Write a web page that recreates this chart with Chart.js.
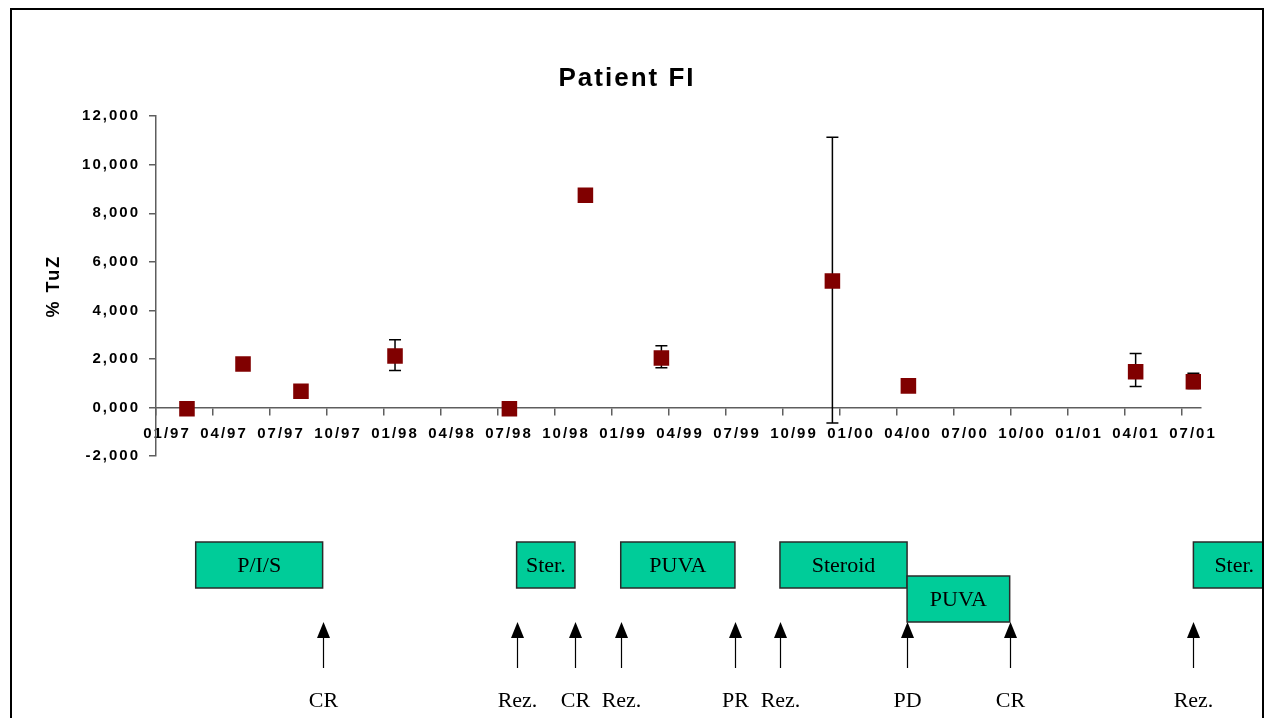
<!DOCTYPE html>
<html>
<head>
<meta charset="utf-8">
<title>Patient FI</title>
<script src="https://cdn.jsdelivr.net/npm/chart.js@4.4.1/dist/chart.umd.min.js"></script>
<style>
    html, body { margin: 0; padding: 0; background: #fff; overflow: hidden; }
    #chart { position: absolute; left: 0; top: 0; }
    #frame {
        position: absolute; left: 10px; top: 8px; width: 1254px; height: 800px;
        border: 2px solid #000; box-sizing: border-box; pointer-events: none;
    }
</style>
</head>
<body>
<canvas id="chart" width="1266" height="718"></canvas>
<div id="frame"></div>
<script>
// months counted from 01/97
const months = [1.63, 4.58, 7.63, 12.58, 18.6, 22.6, 26.6, 35.6, 39.6, 51.56, 54.6];
const tuz = [-0.05, 1.79, 0.67, 2.12, -0.05, 8.74, 2.04, 5.21, 0.89, 1.47, 1.06];
const errHigh = [null, null, null, 2.79, null, null, 2.54, 11.13, null, 2.22, 1.41];
const errLow = [null, null, null, 1.52, null, null, 1.64, -0.64, null, 0.86, 0.78];

const xTickLabels = ["01/97", "04/97", "07/97", "10/97", "01/98", "04/98", "07/98", "10/98",
    "01/99", "04/99", "07/99", "10/99", "01/00", "04/00", "07/00", "10/00", "01/01", "04/01", "07/01"];
const yTickLabels = ["-2,000", "0,000", "2,000", "4,000", "6,000", "8,000", "10,000", "12,000"];

// therapy blocks under the chart (months)
const therapyLabel = ["P/I/S", "Ster.", "PUVA", "Steroid", "PUVA", "Ster."];
const therapyStart = [2.09, 18.98, 24.46, 32.84, 39.53, 54.6];
const therapyEnd = [8.77, 22.05, 30.47, 39.53, 44.93, 58.9];
const therapyRow = [0, 0, 0, 0, 1, 0];

// response markers (months)
const responseLabel = ["CR", "Rez.", "CR", "Rez.", "PR", "Rez.", "PD", "CR", "Rez."];
const responseMonth = [8.77, 18.98, 22.05, 24.46, 30.47, 32.84, 39.53, 44.93, 54.6];

const axisColor = "#5e5e5e";
const sans = "'Liberation Sans', Arial, sans-serif";
const serif = "'Liberation Serif', 'Times New Roman', serif";

const spacing = {
    id: "spacing",
    beforeLayout(chart) { chart.ctx.letterSpacing = "2px"; },
    beforeDraw(chart) { chart.ctx.letterSpacing = "2px"; }
};

const errorBars = {
    id: "errorBars",
    beforeDatasetsDraw(chart) {
        const { ctx } = chart;
        const x = chart.scales.x, y = chart.scales.y;
        ctx.save();
        ctx.strokeStyle = "#000";
        ctx.lineWidth = 1.5;
        months.forEach((m, i) => {
            if (errHigh[i] == null) return;
            const px = x.getPixelForValue(m);
            const top = y.getPixelForValue(errHigh[i]);
            const bot = y.getPixelForValue(errLow[i]);
            ctx.beginPath();
            ctx.moveTo(px, top); ctx.lineTo(px, bot);
            ctx.moveTo(px - 6, top); ctx.lineTo(px + 6, top);
            ctx.moveTo(px - 6, bot); ctx.lineTo(px + 6, bot);
            ctx.stroke();
        });
        ctx.restore();
    }
};

const therapy = {
    id: "therapy",
    afterDraw(chart) {
        const { ctx } = chart;
        const x = chart.scales.x;
        ctx.save();
        ctx.letterSpacing = "0px";
        ctx.beginPath();
        ctx.rect(0, 0, 1262, chart.height);
        ctx.clip();
        ctx.font = "22px " + serif;
        ctx.textAlign = "center";
        ctx.textBaseline = "middle";

        therapyLabel.forEach((label, i) => {
            const x0 = x.getPixelForValue(therapyStart[i]);
            const x1 = x.getPixelForValue(therapyEnd[i]);
            const top = therapyRow[i] ? 576 : 542;
            const h = 46;
            ctx.fillStyle = "#00cc99";
            ctx.fillRect(x0, top, x1 - x0, h);
            ctx.strokeStyle = "#2a2a2a";
            ctx.lineWidth = 1.5;
            ctx.strokeRect(x0, top, x1 - x0, h);
            ctx.fillStyle = "#000";
            ctx.fillText(label, (x0 + x1) / 2, top + h / 2 + 1);
        });

        responseLabel.forEach((label, i) => {
            const px = Math.round(x.getPixelForValue(responseMonth[i])) + 0.5;
            ctx.strokeStyle = "#000";
            ctx.lineWidth = 1.2;
            ctx.beginPath();
            ctx.moveTo(px, 668); ctx.lineTo(px, 636);
            ctx.stroke();
            ctx.fillStyle = "#000";
            ctx.beginPath();
            ctx.moveTo(px, 622); ctx.lineTo(px - 6.5, 638); ctx.lineTo(px + 6.5, 638);
            ctx.closePath();
            ctx.fill();
            ctx.fillText(label, px, 701);
        });
        ctx.restore();
    }
};

new Chart(document.getElementById("chart"), {
    type: "scatter",
    data: {
        datasets: [{
            data: months.map((m, i) => ({ x: m, y: tuz[i] })),
            pointStyle: "rect",
            pointRadius: 11,
            pointHoverRadius: 11,
            backgroundColor: "#800000",
            borderWidth: 0,
            showLine: false
        }]
    },
    options: {
        responsive: false,
        devicePixelRatio: 1,
        animation: false,
        events: [],
        layout: { padding: { left: 53, right: 65, top: 0, bottom: 262 } },
        plugins: {
            legend: { display: false },
            tooltip: { enabled: false },
            title: {
                display: true,
                text: "Patient FI",
                color: "#000",
                font: { family: sans, size: 26, weight: "bold" },
                padding: { top: 63, bottom: 22 }
            }
        },
        scales: {
            x: {
                type: "linear",
                min: 0,
                max: 55,
                position: { y: 0 },
                border: { color: axisColor, width: 1.5 },
                grid: { drawOnChartArea: false, tickLength: 7, color: axisColor, lineWidth: 1.5 },
                ticks: {
                    stepSize: 3,
                    includeBounds: false,
                    autoSkip: false,
                    maxRotation: 0,
                    labelOffset: 11,
                    padding: 10,
                    color: "#000",
                    font: { family: sans, size: 15, weight: "bold" },
                    callback: v => xTickLabels[Math.round(v / 3)]
                }
            },
            y: {
                min: -2,
                max: 12,
                afterFit: s => { s.width = 103; },
                border: { color: axisColor, width: 1.5 },
                grid: { drawOnChartArea: false, tickLength: 7, color: axisColor, lineWidth: 1.5 },
                ticks: {
                    stepSize: 2,
                    padding: 9,
                    color: "#000",
                    font: { family: sans, size: 15, weight: "bold" },
                    callback: v => yTickLabels[Math.round((v + 2) / 2)]
                },
                title: {
                    display: true,
                    text: "% TuZ",
                    color: "#000",
                    font: { family: sans, size: 18, weight: "bold" },
                    padding: { top: -10, bottom: 0 }
                }
            }
        }
    },
    plugins: [spacing, errorBars, therapy]
});
</script>
</body>
</html>
